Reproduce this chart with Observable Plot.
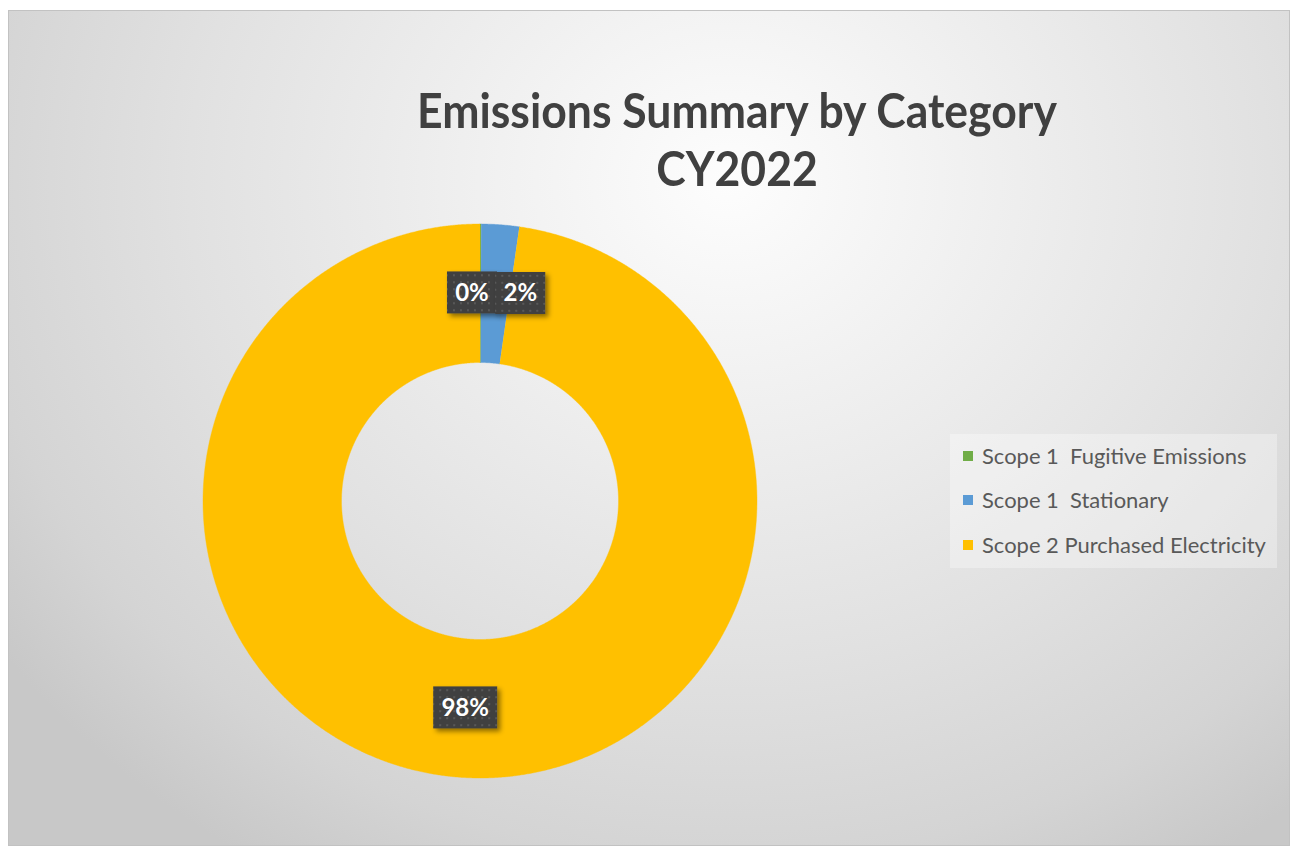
<!DOCTYPE html>
<html>
<head>
<meta charset="utf-8">
<script src="https://cdn.jsdelivr.net/npm/d3@7"></script>
<script src="https://cdn.jsdelivr.net/npm/@observablehq/plot@0.6"></script>
<style>
  html, body { margin: 0; padding: 0; background: #ffffff; }
  #frame {
    position: absolute; left: 8px; top: 10px; width: 1282px; height: 836px;
    box-sizing: border-box; border: 1px solid #c2c2c2; overflow: hidden;
    background: radial-gradient(ellipse 900px 800px at 720px 170px,
      #fdfdfd 0%, #efefef 30%, #e1e1e1 60%, #d4d4d4 85%, #c8c8c8 100%);
    font-family: Lato, "Open Sans", sans-serif;
  }
  #title {
    position: relative; left: 88px; width: 1280px; height: 190px; box-sizing: border-box;
    padding-top: 70px; text-align: center; color: #404040; font-weight: bold;
    line-height: 58px; white-space: nowrap;
  }
  #title div { transform-origin: 640px 0; }
  #chart { display: block; }
  #legend {
    position: absolute; left: 941px; top: 423px; width: 327px; height: 134px;
    background: rgba(255,255,255,0.32);
  }
  .lg-row { position: absolute; left: 0; height: 24px; line-height: 24px; color: #595959; white-space: pre; }
  .lg-sw { position: absolute; left: 13px; top: 7px; width: 10px; height: 10px; }
  .lg-tx { position: absolute; left: 32px; top: 0; }
</style>
</head>
<body>
<div id="frame">
  <div id="title"></div>
  <div id="legend"></div>
</div>
<script>
// ---- data ----
const titleLines = ["Emissions Summary by Category", "CY2022"];
const categories = ["Scope 1  Fugitive Emissions", "Scope 1  Stationary", "Scope 2 Purchased Electricity"];
const shares = [0.07, 2.2, 97.73];          // percent of total emissions
const labelText = ["0%", "2%", "98%"];
const palette = ["#70AD47", "#5B9BD5", "#FFC000"];

// ---- helpers ----
const ctx = document.createElement("canvas").getContext("2d");
function textWidth(text, weight, size, family) {
  ctx.font = `${weight} ${size}px ${family}`;
  return ctx.measureText(text).width;
}

// ---- title (Calibri-like proportions: tall, slightly condensed) ----
const titleEl = document.getElementById("title");
const tSize = 47;
const tScale = 642 / textWidth(titleLines[0], "bold", tSize, "Lato");
titleEl.style.fontSize = tSize + "px";
titleEl.innerHTML = titleLines.map(t => `<div style="transform:scaleX(${tScale})">${t}</div>`).join("");

// ---- donut geometry (derived from data) ----
const R = 277, cx = 470.5, cy = 299.5, inner = 0.5;
const total = d3.sum(shares);
let acc = 0;
const slices = categories.map((c, i) => {
  const a0 = acc / total * 2 * Math.PI; acc += shares[i];
  const a1 = acc / total * 2 * Math.PI;
  return {category: c, a0, a1, label: labelText[i], i};
});
const ring = [];
for (const s of slices) {
  const n = Math.max(2, Math.ceil((s.a1 - s.a0) / (Math.PI / 720)));
  for (let k = 0; k <= n; k++) { const a = s.a0 + (s.a1 - s.a0) * k / n; ring.push({category: s.category, x: Math.sin(a), y: Math.cos(a)}); }
  for (let k = n; k >= 0; k--) { const a = s.a0 + (s.a1 - s.a0) * k / n; ring.push({category: s.category, x: inner * Math.sin(a), y: inner * Math.cos(a)}); }
}
const labelData = slices.map(s => {
  const m = (s.a0 + s.a1) / 2, r = (1 + inner) / 2;
  return {x: r * Math.sin(m), y: r * Math.cos(m), label: s.label, i: s.i};
});
const nudge = [-8.5, 25, 0];

const plot = Plot.plot({
  width: 1280, height: 644,
  x: {domain: [-1, 1], range: [cx - R, cx + R], axis: null},
  y: {domain: [-1, 1], range: [cy + R, cy - R], axis: null},
  color: {domain: categories, range: palette},
  style: {background: "transparent", overflow: "visible"},
  marks: [
    Plot.line(ring, {x: "x", y: "y", z: "category", fill: "category", stroke: "category", strokeWidth: 0.4, curve: "linear"}),
    ...labelData.map((d, i) => Plot.text([d], {
      x: "x", y: "y", text: "label", dx: nudge[i], fill: "white",
      fontSize: 24, fontWeight: "bold", fontFamily: "Lato", className: "dlabel"
    }))
  ]
});
plot.id = "chart";
const frame = document.getElementById("frame");
frame.insertBefore(plot, document.getElementById("legend"));

// label boxes: patterned dark rectangles with a drop shadow behind each label
const ns = "http://www.w3.org/2000/svg";
const defs = document.createElementNS(ns, "defs");
defs.innerHTML = `
  <pattern id="dots" width="7" height="7" patternUnits="userSpaceOnUse">
    <rect width="7" height="7" fill="#404040"/>
    <rect x="2" y="2" width="2" height="2" fill="#585858"/>
  </pattern>
  <filter id="shadow" x="-30%" y="-30%" width="160%" height="160%">
    <feDropShadow dx="3" dy="3" stdDeviation="2.5" flood-color="#000" flood-opacity="0.45"/>
  </filter>`;
plot.insertBefore(defs, plot.firstChild);
const boxW = {"0%": 50, "2%": 50, "98%": 64};
plot.querySelectorAll("g.dlabel text").forEach(t => {
  const b = t.getBBox();
  const w = boxW[t.textContent] || b.width + 18, h = 42;
  const rect = document.createElementNS(ns, "rect");
  rect.setAttribute("x", b.x + b.width / 2 - w / 2);
  rect.setAttribute("y", b.y + b.height / 2 - h / 2 + 1);
  rect.setAttribute("width", w);
  rect.setAttribute("height", h);
  rect.setAttribute("fill", "url(#dots)");
  rect.setAttribute("filter", "url(#shadow)");
  const tr = t.getAttribute("transform");
  if (tr) rect.setAttribute("transform", tr);
  t.parentNode.insertBefore(rect, t);
});

// ---- legend ----
const legend = document.getElementById("legend");
const lSize = 100 * 284 / textWidth(categories[2], "normal", 100, "Lato");
const rowCenters = [21.5, 66, 111];
categories.forEach((c, i) => {
  const row = document.createElement("div");
  row.className = "lg-row";
  row.style.top = (rowCenters[i] - 12) + "px";
  row.style.fontSize = lSize + "px";
  row.innerHTML = `<span class="lg-sw" style="background:${palette[i]}"></span><span class="lg-tx">${c}</span>`;
  legend.appendChild(row);
});
</script>
</body>
</html>
